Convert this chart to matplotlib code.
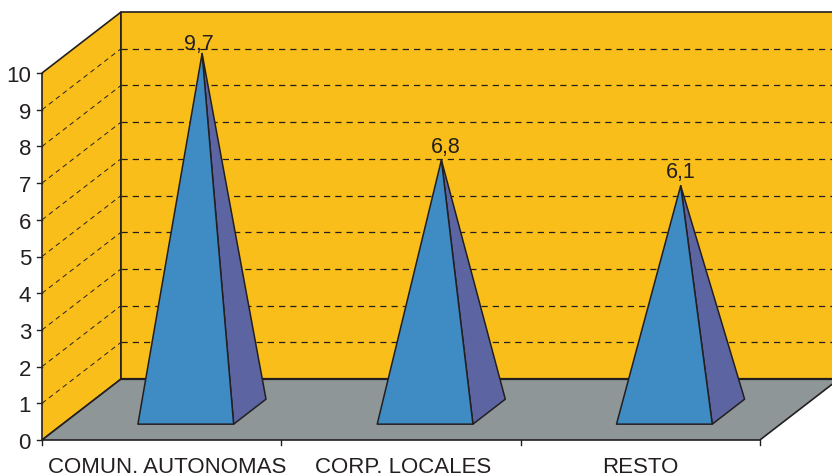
import matplotlib
matplotlib.use("Agg")
import matplotlib.pyplot as plt
from matplotlib.patches import Polygon

plt.rcParams['font.family'] = ['Liberation Sans', 'DejaVu Sans']

categories = ["COMUN. AUTONOMAS", "CORP. LOCALES", "RESTO"]
values = [9.7, 6.8, 6.1]
value_labels = ["9,7", "6,8", "6,1"]
y_ticks = list(range(0, 11))

WALL = "#f9be1a"
FLOOR = "#8e9698"
BLUE = "#3f8bc4"
PURPLE = "#5c64a2"
INK = "#231f20"

# depth of the fake 3d box, in data units
DEPTH_X = 0.33
DEPTH_Y = 1.66
Y_MAX = 10
HALF_W = 0.2

# label nudges, the original labels were placed by hand
label_dx = [-2, 3, 0]
label_dy = [3, 6, 6]
name_x = [0.524, 1.509, 2.501]


def project(x, y, depth=0.0):
    return (x + DEPTH_X * depth, y + DEPTH_Y * depth)


fig = plt.figure(figsize=(8.32, 4.77), dpi=100)
ax = fig.add_axes([0, 0, 1, 1])
ax.set_xlim(-42 / 239.3, 790 / 239.3)
ax.set_ylim(-36 / 36.7, 441 / 36.7)
ax.axis("off")

n = len(categories)

# side wall, back wall, floor
side = [project(0, 0), project(0, Y_MAX), project(0, Y_MAX, 1), project(0, 0, 1)]
back = [project(0, 0, 1), project(0, Y_MAX, 1), project(n, Y_MAX, 1), project(n, 0, 1)]
floor = [project(0, 0), project(0, 0, 1), project(n, 0, 1), project(n, 0)]
ax.add_patch(Polygon(side, closed=True, fc=WALL, ec=INK, lw=1.2, zorder=1))
ax.add_patch(Polygon(back, closed=True, fc=WALL, ec=INK, lw=1.2, zorder=1))
ax.add_patch(Polygon(floor, closed=True, fc=FLOOR, ec=INK, lw=1.2, zorder=2))
ax.plot([floor[1][0], floor[2][0]], [floor[1][1], floor[2][1]], color=INK, lw=1.6, zorder=2)

# dashed grid on the walls
for v in y_ticks[1:-1]:
    a, b, c = project(0, v), project(0, v, 1), project(n, v, 1)
    ax.plot([a[0], b[0]], [a[1], b[1]], color=INK, lw=0.7, ls=(0, (5, 4)), zorder=1.5)
    ax.plot([b[0], c[0]], [b[1], c[1]], color=INK, lw=0.9, ls=(0, (5, 4)), zorder=1.5)

# pyramids
for i, v in enumerate(values):
    cx = i + 0.5 + 0.015
    front_l = project(cx - HALF_W, 0, 0.26)
    front_r = project(cx + HALF_W, 0, 0.26)
    back_r = project(cx + HALF_W, 0, 0.67)
    apex = project(i + 0.504, v, 0.5)
    ax.add_patch(Polygon([front_r, back_r, apex], closed=True, fc=PURPLE, ec=INK,
                         lw=1.1, joinstyle="round", zorder=3))
    ax.add_patch(Polygon([front_l, front_r, apex], closed=True, fc=BLUE, ec=INK,
                         lw=1.1, joinstyle="round", zorder=4))
    ax.annotate(value_labels[i], apex, xytext=(label_dx[i], label_dy[i]),
                textcoords="offset points", ha="center", va="baseline",
                fontsize=15.5, color=INK, zorder=5)

# axis ticks and labels
for v in y_ticks:
    ax.plot([-5 / 239.3, 0], [v, v], color=INK, lw=1.0, zorder=2)
    ax.text(-11 / 239.3, v, str(v), ha="right", va="center_baseline", fontsize=16, color=INK)
for i in range(n + 1):
    ax.plot([i, i], [0, -5 / 36.7], color=INK, lw=1.0, zorder=2)
for i, name in enumerate(categories):
    ax.text(name_x[i], -0.86, name, ha="center", va="baseline", fontsize=16, color=INK)

fig.savefig("out.png", dpi=100)
